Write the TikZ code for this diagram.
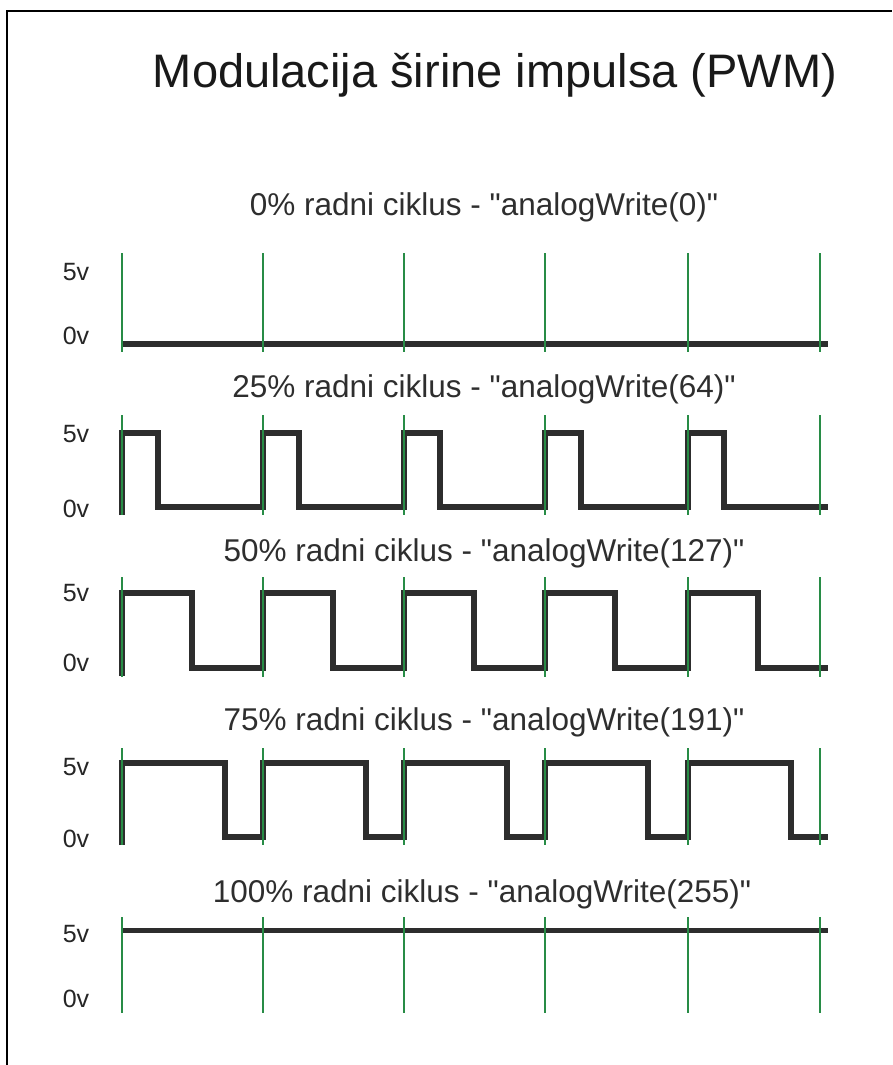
\documentclass[tikz,border=0pt]{standalone}
\usepackage{fontspec}
\newfontfamily\lsans{Liberation Sans}
\begin{document}
\begin{tikzpicture}[x=1pt,y=-1pt,
  frame/.style={line width=2pt,black},
  wave/.style={line width=5.5pt,color=wavegray},
  grid/.style={line width=1.5pt,color=gridgreen},
  title/.style={anchor=base,inner sep=0pt,font=\lsans\fontsize{47}{52}\selectfont,text=black!90},
  sub/.style={anchor=base,inner sep=0pt,font=\lsans\fontsize{31.5}{35}\selectfont,text=black!82},
  lvl/.style={anchor=center,inner sep=0pt,font=\lsans\fontsize{25}{28}\selectfont,text=black!85}]
\definecolor{wavegray}{RGB}{45,45,45}
\definecolor{gridgreen}{RGB}{40,140,70}
\useasboundingbox (0,0) rectangle (892,1065);
\fill[white] (0,0) rectangle (892,1065);
\draw[frame] (7,1065) -- (7,11) -- (892,11);

\node[title] (t) at (495,88) {Modulacija širine impulsa (PWM)};

% Row 1: 0%
\node[sub] (s1) at (484,215) {0\% radni ciklus - "analogWrite(0)"};
\node[lvl] (h1) at (76,272) {5v};
\node[lvl] (l1) at (76,336) {0v};
\draw[wave] (122,344) -- (828,344);
\foreach \x in {122,263,404,545,688,820}
  \draw[grid] (\x,253) -- (\x,352);

% Row 2: 25%
\node[sub] (s2) at (484,397) {25\% radni ciklus - "analogWrite(64)"};
\node[lvl] (h2) at (76,434) {5v};
\node[lvl] (l2) at (76,509) {0v};
\draw[wave] (122,515) \foreach \x in {122,263,404,545,688}{ -- (\x,507) -- (\x,433) -- ({\x+36},433) -- ({\x+36},507)} -- (828,507);
\foreach \x in {122,263,404,545,688,820}
  \draw[grid] (\x,415) -- (\x,515);

% Row 3: 50%
\node[sub] (s3) at (484,561) {50\% radni ciklus - "analogWrite(127)"};
\node[lvl] (h3) at (76,593) {5v};
\node[lvl] (l3) at (76,663) {0v};
\draw[wave] (122,676) \foreach \x in {122,263,404,545,688}{ -- (\x,668) -- (\x,593) -- ({\x+70},593) -- ({\x+70},668)} -- (828,668);
\foreach \x in {122,263,404,545,688,820}
  \draw[grid] (\x,577) -- (\x,677);

% Row 4: 75%
\node[sub] (s4) at (484,730) {75\% radni ciklus - "analogWrite(191)"};
\node[lvl] (h4) at (76,767) {5v};
\node[lvl] (l4) at (76,839) {0v};
\draw[wave] (122,845) \foreach \x in {122,263,404,545,688}{ -- (\x,837) -- (\x,763) -- ({\x+103},763) -- ({\x+103},837)} -- (828,837);
\foreach \x in {122,263,404,545,688,820}
  \draw[grid] (\x,748) -- (\x,845);

% Row 5: 100%
\node[sub] (s5) at (482,902) {100\% radni ciklus - "analogWrite(255)"};
\node[lvl] (h5) at (76,934) {5v};
\node[lvl] (l5) at (76,999) {0v};
\draw[wave,line width=5pt] (122,930) -- (828,930);
\foreach \x in {122,263,404,545,688,820}
  \draw[grid] (\x,917) -- (\x,1013);
\end{tikzpicture}
\end{document}
